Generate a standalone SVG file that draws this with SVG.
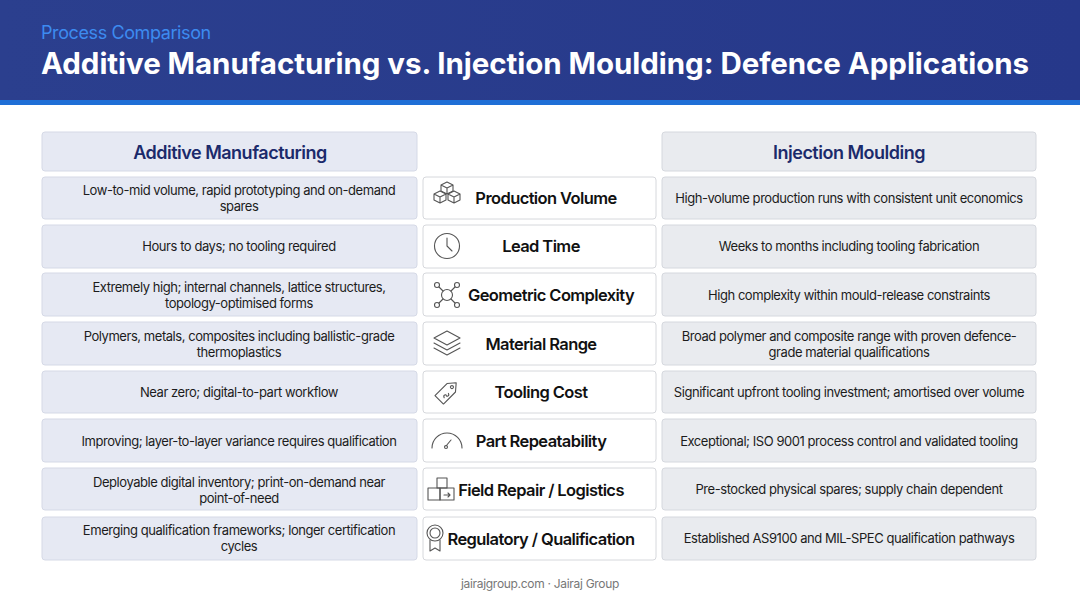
<svg xmlns="http://www.w3.org/2000/svg" width="1080" height="603" viewBox="0 0 1080 603">
<defs>
<linearGradient id="hd" x1="0" y1="0" x2="1" y2="0"><stop offset="0" stop-color="#2b3f8e"/><stop offset="1" stop-color="#26388a"/></linearGradient>
<style>
text{font-family:Inter,"Noto Sans",sans-serif}
.l{fill:#e6e9f3;stroke:#d5d9e6;stroke-width:1}
.r{fill:#e9ebef;stroke:#d5d8de;stroke-width:1}
.m{fill:#fff;stroke:#d6d8dc;stroke-width:1}
.t{font-size:13px;fill:#1c1c1c;text-anchor:middle;letter-spacing:-0.45px}
.h{font-size:18px;font-weight:600;fill:#1b2a6b;text-anchor:middle;letter-spacing:-0.5px}
.c{font-size:16.5px;font-weight:600;fill:#111;text-anchor:middle;letter-spacing:-0.6px}
.i{fill:none;stroke:#555;stroke-width:1.1;stroke-linejoin:round;stroke-linecap:round}
</style>
</defs>
<rect width="1080" height="603" fill="#fff"/>
<rect width="1080" height="101" fill="url(#hd)"/>
<rect y="100" width="1080" height="5" fill="#1f6fd6"/>
<text x="41" y="39" font-size="18" fill="#3d8bf0" style="letter-spacing:-0.4px">Process Comparison</text>
<text x="41" y="74" font-size="29.5" font-weight="700" fill="#fff" style="letter-spacing:-0.05px">Additive Manufacturing vs. Injection Moulding: Defence Applications</text>
<g id="hdrL"><rect class="l" x="42" y="132" width="375" height="39" rx="3"/><text class="h" x="230" y="159">Additive Manufacturing</text></g>
<g id="hdrR"><rect class="r" x="662" y="132" width="374" height="39" rx="3"/><text class="h" x="849" y="159">Injection Moulding</text></g>

<g id="row1"><rect class="l" x="42" y="177" width="375" height="42" rx="3"/><text class="t" x="239" y="195">Low-to-mid volume, rapid prototyping and on-demand</text><text class="t" x="239" y="211">spares</text>
<rect class="m" x="423" y="177" width="233" height="42" rx="3"/><text class="c" x="546" y="204">Production Volume</text>
<g class="i"><path d="M441 185l6-3 6 3v6l-6 3-6-3z M441 185l6 3 6-3 M447 188v6"/><path d="M434 194l6-3 6 3v6l-6 3-6-3z M434 194l6 3 6-3 M440 197v6"/><path d="M448 194l6-3 6 3v6l-6 3-6-3z M448 194l6 3 6-3 M454 197v6"/></g>
<rect class="r" x="662" y="177" width="374" height="42" rx="3"/><text class="t" x="849" y="203">High-volume production runs with consistent unit economics</text></g>

<g id="row2"><rect class="l" x="42" y="225" width="375" height="43" rx="3"/><text class="t" x="239" y="251">Hours to days; no tooling required</text>
<rect class="m" x="423" y="225" width="233" height="43" rx="3"/><text class="c" x="541" y="252">Lead Time</text>
<g class="i"><circle cx="447" cy="246" r="12.5"/><path d="M447 238v8l5 5"/></g>
<rect class="r" x="662" y="225" width="374" height="43" rx="3"/><text class="t" x="849" y="251">Weeks to months including tooling fabrication</text></g>

<g id="row3"><rect class="l" x="42" y="273" width="375" height="43" rx="3"/><text class="t" x="239" y="292">Extremely high; internal channels, lattice structures,</text><text class="t" x="239" y="308">topology-optimised forms</text>
<rect class="m" x="423" y="273" width="233" height="43" rx="3"/><text class="c" x="551" y="301">Geometric Complexity</text>
<g class="i"><circle cx="447" cy="295" r="5.5"/><circle cx="437" cy="285" r="2.5"/><circle cx="457" cy="285" r="2.5"/><circle cx="437" cy="305" r="2.5"/><circle cx="457" cy="305" r="2.5"/><path d="M439 287l4 4M455 287l-4 4M439 303l4-4M455 303l-4-4"/></g>
<rect class="r" x="662" y="273" width="374" height="43" rx="3"/><text class="t" x="849" y="300">High complexity within mould-release constraints</text></g>

<g id="row4"><rect class="l" x="42" y="322" width="375" height="43" rx="3"/><text class="t" x="239" y="341">Polymers, metals, composites including ballistic-grade</text><text class="t" x="239" y="357">thermoplastics</text>
<rect class="m" x="423" y="322" width="233" height="43" rx="3"/><text class="c" x="541" y="350">Material Range</text>
<g class="i"><path d="M434 338l13-7 13 7-13 7z"/><path d="M434 343l13 7 13-7"/><path d="M434 348l13 7 13-7"/></g>
<rect class="r" x="662" y="322" width="374" height="43" rx="3"/><text class="t" x="849" y="341">Broad polymer and composite range with proven defence-</text><text class="t" x="849" y="357">grade material qualifications</text></g>

<g id="row5"><rect class="l" x="42" y="371" width="375" height="42" rx="3"/><text class="t" x="239" y="397">Near zero; digital-to-part workflow</text>
<rect class="m" x="423" y="371" width="233" height="42" rx="3"/><text class="c" x="541" y="398">Tooling Cost</text>
<g class="i" transform="rotate(-45 447 392)"><path d="M436 386h17l7 6-7 6h-17z"/><circle cx="454" cy="392" r="1.5"/><path d="M441 394c1-3 4-1 3 0s2 3 3 0"/></g>
<rect class="r" x="662" y="371" width="374" height="42" rx="3"/><text class="t" x="849" y="397">Significant upfront tooling investment; amortised over volume</text></g>

<g id="row6"><rect class="l" x="42" y="419" width="375" height="43" rx="3"/><text class="t" x="239" y="446">Improving; layer-to-layer variance requires qualification</text>
<rect class="m" x="423" y="419" width="233" height="43" rx="3"/><text class="c" x="541" y="447">Part Repeatability</text>
<g class="i"><path d="M432 448a15 15 0 0 1 30 0"/><path d="M446 446l5-6"/><circle cx="446" cy="447" r="1.5"/></g>
<rect class="r" x="662" y="419" width="374" height="43" rx="3"/><text class="t" x="849" y="446">Exceptional; ISO 9001 process control and validated tooling</text></g>

<g id="row7"><rect class="l" x="42" y="468" width="375" height="42" rx="3"/><text class="t" x="239" y="487">Deployable digital inventory; print-on-demand near</text><text class="t" x="239" y="503">point-of-need</text>
<rect class="m" x="423" y="468" width="233" height="42" rx="3"/><text class="c" x="541" y="496">Field Repair / Logistics</text>
<g class="i"><rect x="437" y="478" width="10" height="10"/><rect x="428" y="488" width="12" height="12"/><rect x="440" y="488" width="14" height="12"/><path d="M444 495h6l-2-2m2 2l-2 2"/></g>
<rect class="r" x="662" y="468" width="374" height="42" rx="3"/><text class="t" x="849" y="494">Pre-stocked physical spares; supply chain dependent</text></g>

<g id="row8"><rect class="l" x="42" y="517" width="375" height="43" rx="3"/><text class="t" x="239" y="535">Emerging qualification frameworks; longer certification</text><text class="t" x="239" y="551">cycles</text>
<rect class="m" x="423" y="517" width="233" height="43" rx="3"/><text class="c" x="541" y="545">Regulatory / Qualification</text>
<g class="i"><circle cx="435" cy="533" r="8"/><circle cx="435" cy="533" r="5"/><path d="M430 540v11l5-3 5 3v-11"/></g>
<rect class="r" x="662" y="517" width="374" height="43" rx="3"/><text class="t" x="849" y="543">Established AS9100 and MIL-SPEC qualification pathways</text></g>

<text x="540" y="588" font-size="12" fill="#777" text-anchor="middle" style="letter-spacing:-0.3px">jairajgroup.com · Jairaj Group</text>
</svg>
